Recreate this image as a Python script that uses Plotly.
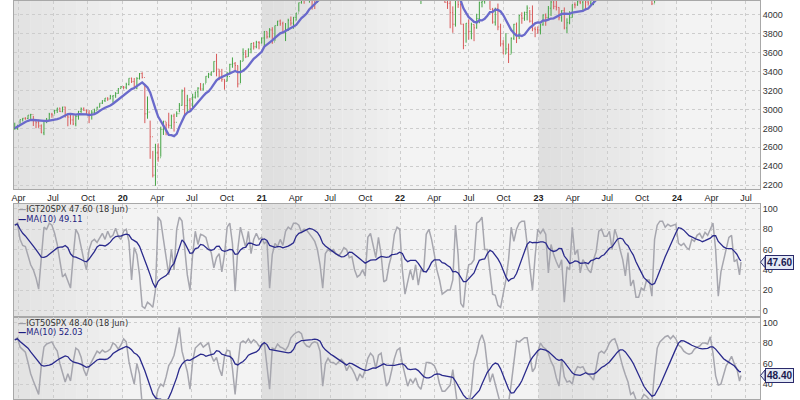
import pandas as pd
import plotly.graph_objects as go

# ---------------- data ----------------
dates = list(pd.date_range("2019-03-22", "2024-06-14", freq="W-FRI")) + [pd.Timestamp("2024-06-18")]

spx_close = [
    2801, 2834, 2893, 2907, 2905, 2940, 2946, 2881, 2860, 2826, 2752, 2873, 2887, 2950, 2942, 2990, 3014, 2977, 3026, 2932,
    2919, 2889, 2847, 2926, 2979, 3007, 2992, 2962, 2952, 2970, 2986, 3023, 3067, 3093, 3120, 3110, 3141, 3146, 3169, 3221, 3240,
    3235, 3265, 3330, 3295, 3226, 3328, 3380, 3338, 2954, 2972, 2711, 2305, 2541, 2489, 2790, 2875, 2837, 2831, 2930, 2864,
    2955, 3044, 3194, 3041, 3098, 3009, 3130, 3185, 3225, 3216, 3271, 3351, 3373, 3397, 3508, 3427, 3341, 3319, 3298, 3348,
    3477, 3484, 3465, 3270, 3509, 3585, 3558, 3638, 3699, 3663, 3709, 3703, 3756,
    3825, 3768, 3841, 3714, 3887, 3935, 3907, 3811, 3842, 3943, 3913, 3975, 4020, 4129, 4185, 4180, 4181, 4233, 4174, 4156,
    4204, 4230, 4247, 4166, 4281, 4352, 4370, 4327, 4412, 4395, 4437, 4468, 4442, 4509, 4535, 4459, 4433, 4455, 4357, 4391,
    4471, 4545, 4605, 4698, 4683, 4698, 4595, 4538, 4712, 4621, 4726, 4766,
    4677, 4663, 4398, 4432, 4501, 4419, 4349, 4385, 4329, 4204, 4463, 4543, 4546, 4488, 4393, 4272, 4132, 4123, 4024, 3901,
    4158, 4109, 3901, 3675, 3912, 3825, 3899, 3863, 3962, 4130, 4145, 4280, 4228, 4058, 3924, 4067, 3873, 3693, 3586, 3640,
    3583, 3753, 3901, 3771, 3993, 3965, 4026, 4072, 3934, 3852, 3845, 3840,
    3895, 3999, 3973, 4071, 4136, 4090, 4079, 3970, 4046, 3862, 3917, 3971, 4109, 4105, 4138, 4134, 4169, 4136, 4124, 4192,
    4205, 4282, 4299, 4410, 4348, 4450, 4399, 4505, 4536, 4582, 4478, 4464, 4370, 4406, 4516, 4457, 4450, 4320, 4288, 4309,
    4328, 4224, 4117, 4358, 4415, 4514, 4559, 4595, 4604, 4719, 4755, 4770,
    4697, 4784, 4840, 4891, 4959, 5027, 5006, 5089, 5137, 5124, 5117, 5234, 5254, 5204, 5123, 4967, 5100, 5128, 5223, 5303,
    5305, 5278, 5347, 5432, 5487,
]
spx_high = [
    2860, 2836, 2893, 2910, 2917, 2940, 2954, 2932, 2892, 2892, 2842, 2884, 2910, 2964, 2964, 2996, 3017, 3018, 3028, 3029,
    2945, 2943, 2939, 2940, 2985, 3021, 3022, 2999, 2993, 2993, 3008, 3028, 3066, 3097, 3121, 3128, 3154, 3147, 3183, 3225, 3248,
    3247, 3282, 3330, 3337, 3333, 3341, 3385, 3393, 3260, 3137, 2882, 2562, 2637, 2641, 2818, 2880, 2868, 2965, 2945, 2955,
    2980, 3068, 3211, 3233, 3155, 3121, 3166, 3185, 3235, 3280, 3272, 3352, 3387, 3399, 3509, 3588, 3425, 3429, 3320, 3397,
    3483, 3550, 3502, 3465, 3521, 3646, 3628, 3645, 3701, 3712, 3726, 3723, 3760,
    3827, 3824, 3860, 3870, 3887, 3937, 3951, 3928, 3914, 3960, 3983, 3978, 4021, 4130, 4191, 4195, 4219, 4238, 4236, 4197,
    4219, 4234, 4249, 4262, 4286, 4355, 4372, 4394, 4415, 4430, 4440, 4468, 4481, 4513, 4546, 4536, 4486, 4465, 4466, 4429,
    4475, 4559, 4608, 4718, 4714, 4743, 4705, 4652, 4713, 4731, 4741, 4808,
    4819, 4749, 4664, 4453, 4595, 4590, 4490, 4401, 4416, 4314, 4466, 4546, 4637, 4593, 4521, 4513, 4308, 4308, 4154, 4090,
    4159, 4178, 4169, 3907, 3914, 3951, 3918, 3900, 4012, 4141, 4167, 4281, 4325, 4203, 4074, 4077, 4120, 3907, 3733, 3807,
    3697, 3762, 3905, 3919, 4001, 4028, 4034, 4101, 4052, 4100, 3876, 3878,
    3907, 4004, 4015, 4094, 4195, 4176, 4163, 4082, 4049, 4079, 3964, 4039, 4110, 4133, 4164, 4170, 4170, 4186, 4155, 4213,
    4213, 4290, 4299, 4448, 4439, 4458, 4456, 4527, 4578, 4607, 4595, 4528, 4490, 4452, 4541, 4520, 4511, 4465, 4338, 4312,
    4386, 4393, 4263, 4366, 4418, 4521, 4560, 4595, 4609, 4739, 4779, 4793,
    4755, 4803, 4843, 4907, 4975, 5030, 5038, 5111, 5140, 5189, 5179, 5261, 5264, 5263, 5220, 5150, 5114, 5139, 5239, 5325,
    5342, 5315, 5376, 5447, 5488,
]
spx_low = [
    2785, 2785, 2848, 2873, 2891, 2898, 2900, 2825, 2801, 2805, 2750, 2728, 2855, 2880, 2912, 2953, 2963, 2973, 2970, 2914,
    2822, 2840, 2834, 2822, 2892, 2964, 2985, 2946, 2855, 2893, 2952, 2993, 3023, 3058, 3079, 3091, 3108, 3070, 3123, 3166, 3222,
    3212, 3214, 3254, 3280, 3214, 3214, 3316, 3328, 2855, 2902, 2478, 2281, 2192, 2447, 2500, 2730, 2727, 2799, 2797, 2766,
    2920, 2970, 3039, 2937, 2966, 2999, 3001, 3115, 3127, 3200, 3198, 3280, 3331, 3354, 3396, 3350, 3310, 3293, 3209, 3297,
    3370, 3441, 3416, 3233, 3279, 3511, 3543, 3558, 3594, 3633, 3647, 3636, 3699,
    3663, 3749, 3761, 3694, 3725, 3884, 3885, 3805, 3723, 3830, 3886, 3854, 3939, 4034, 4119, 4118, 4152, 4129, 4056, 4062,
    4128, 4191, 4214, 4165, 4164, 4271, 4304, 4322, 4234, 4365, 4367, 4424, 4368, 4432, 4513, 4447, 4427, 4306, 4288, 4278,
    4323, 4447, 4547, 4595, 4630, 4672, 4585, 4495, 4532, 4571, 4532, 4734,
    4662, 4582, 4395, 4223, 4436, 4402, 4327, 4115, 4279, 4157, 4161, 4424, 4507, 4450, 4381, 4267, 4129, 4063, 3859, 3811,
    3876, 4074, 3900, 3637, 3706, 3738, 3742, 3722, 3854, 3912, 4080, 4119, 4218, 4057, 3907, 3887, 3838, 3666, 3584, 3588,
    3491, 3590, 3735, 3702, 3744, 3906, 3938, 3942, 3919, 3827, 3764, 3801,
    3794, 3886, 3885, 3949, 3989, 4060, 4047, 3943, 3928, 3847, 3808, 3901, 3971, 4069, 4097, 4114, 4049, 4048, 4099, 4098,
    4103, 4166, 4252, 4287, 4341, 4328, 4385, 4389, 4503, 4528, 4474, 4443, 4335, 4356, 4414, 4430, 4448, 4316, 4238, 4216,
    4284, 4223, 4104, 4127, 4340, 4404, 4513, 4537, 4546, 4594, 4697, 4751,
    4683, 4682, 4714, 4845, 4845, 4919, 4920, 4946, 5039, 5098, 5104, 5118, 5204, 5146, 5108, 4954, 4970, 5012, 5119, 5212,
    5257, 5191, 5234, 5331, 5420,
]

igt20spx = [
    84, 86, 70, 64, 63, 55, 45, 40, 32, 21, 50, 82, 80, 86, 84, 76, 65, 48, 33, 36,
    28, 22, 53, 80, 75, 62, 50, 40, 60, 68, 70, 67, 72, 76, 70, 78, 72, 74, 81, 73,
    70, 78, 80, 68, 30, 62, 55, 35, 4, 2, 8, 6, 3, 20, 92, 88, 70, 50, 35, 60,
    40, 80, 92, 88, 62, 35, 20, 55, 78, 65, 75, 74, 72, 62, 57, 42, 52, 56, 38, 55,
    82, 86, 66, 19, 60, 82, 72, 62, 78, 56, 70, 76, 70, 72, 66, 68, 22, 55, 66, 63,
    70, 64, 78, 82, 80, 86, 86, 84, 77, 80, 79, 76, 72, 68, 60, 45, 22, 56, 60, 58,
    60, 56, 54, 57, 62, 60, 52, 53, 40, 33, 35, 40, 34, 72, 76, 64, 52, 72, 55, 28,
    30, 45, 55, 75, 82, 80, 40, 16, 30, 40, 30, 45, 25, 40, 38, 75, 80, 70, 56, 40,
    30, 16, 18, 20, 20, 30, 84, 55, 7, 3, 30, 45, 46, 50, 86, 88, 92, 60, 60, 35,
    16, 15, 5, 3, 15, 30, 50, 82, 68, 80, 86, 88, 88, 65, 40, 20, 53, 80, 76, 80,
    75, 37, 65, 55, 48, 42, 50, 8, 43, 40, 82, 55, 60, 37, 50, 46, 40, 37, 50, 58,
    78, 80, 73, 73, 78, 60, 80, 72, 60, 50, 34, 57, 24, 30, 13, 13, 22, 20, 30, 30,
    14, 70, 84, 88, 88, 82, 85, 83, 84, 85, 66, 64, 66, 62, 60, 70, 68, 74, 76, 71,
    77, 74, 80, 86, 60, 14, 38, 50, 62, 72, 74, 48, 50, 35, 47.6,
]
igt50spx = [
    83, 85, 76, 73, 71, 61, 50, 43, 36, 30, 58, 76, 79, 80, 81, 76, 72, 60, 50, 42,
    50, 43, 61, 75, 73, 66, 54, 48, 57, 62, 66, 72, 70, 73, 71, 72, 74, 80, 78, 74,
    78, 84, 81, 62, 50, 40, 60, 50, 20, 5, 3, 5, 10, 25, 35, 40, 38, 47, 58, 62,
    68, 80, 95, 72, 62, 52, 35, 62, 75, 78, 80, 76, 78, 80, 68, 62, 66, 55, 48, 67,
    73, 72, 55, 30, 58, 80, 82, 80, 84, 80, 83, 81, 77, 77, 80, 60, 35, 75, 74, 79,
    76, 75, 73, 77, 85, 88, 90, 91, 89, 80, 77, 76, 80, 81, 80, 72, 38, 60, 65, 61,
    61, 59, 62, 64, 61, 53, 58, 55, 50, 43, 50, 46, 54, 65, 70, 67, 55, 68, 70, 52,
    38, 42, 55, 65, 73, 75, 60, 50, 38, 45, 41, 46, 38, 35, 46, 61, 61, 60, 58, 52,
    40, 33, 33, 36, 39, 54, 25, 15, 10, 8, 12, 20, 34, 62, 70, 82, 88, 80, 58, 42,
    50, 38, 25, 15, 10, 12, 22, 40, 62, 82, 81, 83, 85, 85, 67, 52, 56, 71, 80, 76,
    74, 70, 62, 57, 46, 38, 64, 47, 42, 43, 40, 52, 57, 56, 57, 52, 50, 47, 44, 56,
    70, 72, 70, 74, 80, 83, 84, 77, 66, 57, 49, 42, 30, 32, 25, 23, 25, 30, 28, 25,
    22, 52, 75, 81, 84, 86, 87, 84, 87, 84, 78, 76, 72, 70, 69, 70, 74, 76, 77, 80,
    80, 79, 86, 70, 48, 39, 40, 48, 58, 62, 67, 60, 55, 43, 48.4,
]

tick_dates = ["2019-04-01", "2019-07-01", "2019-10-01", "2020-01-01", "2020-04-01", "2020-07-01", "2020-10-01",
              "2021-01-01", "2021-04-01", "2021-07-01", "2021-10-01", "2022-01-01", "2022-04-01", "2022-07-01",
              "2022-10-01", "2023-01-01", "2023-04-01", "2023-07-01", "2023-10-01", "2024-01-01", "2024-04-01",
              "2024-07-01"]
tick_labels = ["Apr", "Jul", "Oct", "<b>20</b>", "Apr", "Jul", "Oct", "<b>21</b>", "Apr", "Jul", "Oct", "<b>22</b>",
               "Apr", "Jul", "Oct", "<b>23</b>", "Apr", "Jul", "Oct", "<b>24</b>", "Apr", "Jul"]
price_ticks = [2200, 2400, 2600, 2800, 3000, 3200, 3400, 3600, 3800, 4000, 4200, 4400, 4600, 4800, 5000, 5200, 5400]
osc_ticks = [0, 20, 40, 60, 80, 100]
legend20 = ["IGT20SPX 47.60 (18 Jun)", "MA(10) 49.11"]
legend50 = ["IGT50SPX 48.40 (18 Jun)", "MA(10) 52.03"]
last20, last50 = "47.60", "48.40"

# ---------------- build ----------------
n = min(len(dates), len(spx_close), len(spx_high), len(spx_low), len(igt20spx), len(igt50spx))
df = pd.DataFrame({"date": dates[:n], "close": spx_close[:n], "high": spx_high[:n], "low": spx_low[:n],
                   "i20": igt20spx[:n], "i50": igt50spx[:n]})
df["open"] = df["close"].shift(1).fillna(df["close"])
df["ma"] = df["close"].rolling(10, min_periods=1).mean()
df["ma20"] = df["i20"].rolling(10, min_periods=1).mean()
df["ma50"] = df["i50"].rolling(10, min_periods=1).mean()

FONT = "Liberation Sans"
LEGFONT = "DejaVu Sans"
X_RANGE = ["2019-03-20", "2024-08-07"]

fig = go.Figure()
fig.add_trace(go.Ohlc(x=df["date"], open=df["open"], high=df["high"], low=df["low"], close=df["close"],
                      increasing=dict(line=dict(color="#44a444", width=1)),
                      decreasing=dict(line=dict(color="#d85a5a", width=1)),
                      tickwidth=0.5, xaxis="x", yaxis="y", hoverinfo="skip"))
fig.add_trace(go.Scatter(x=df["date"], y=df["ma"], mode="lines", line=dict(color="#6a6acb", width=2.3),
                         xaxis="x", yaxis="y", hoverinfo="skip"))
fig.add_trace(go.Scatter(x=df["date"], y=df["i20"], mode="lines", line=dict(color="#a6a6ae", width=1.5),
                         xaxis="x2", yaxis="y2", hoverinfo="skip"))
fig.add_trace(go.Scatter(x=df["date"], y=df["ma20"], mode="lines", line=dict(color="#2a2a8c", width=1.3),
                         xaxis="x2", yaxis="y2", hoverinfo="skip"))
fig.add_trace(go.Scatter(x=df["date"], y=df["i50"], mode="lines", line=dict(color="#a6a6ae", width=1.5),
                         xaxis="x3", yaxis="y3", hoverinfo="skip"))
fig.add_trace(go.Scatter(x=df["date"], y=df["ma50"], mode="lines", line=dict(color="#2a2a8c", width=1.3),
                         xaxis="x3", yaxis="y3", hoverinfo="skip"))

grid = dict(showgrid=True, gridcolor="#cdcdcd", griddash="dot", gridwidth=1,
            showline=True, linecolor="#a8a8a8", linewidth=1, mirror=True, zeroline=False)
xcommon = dict(type="date", range=X_RANGE, tickvals=tick_dates, ticktext=tick_labels, ticks="", **grid)

fig.update_layout(
    width=800, height=400, margin=dict(l=14, r=40, t=0, b=0),
    paper_bgcolor="white", plot_bgcolor="#f3f3f3", showlegend=False,
    font=dict(family=FONT, size=9, color="#333333"),
    xaxis=dict(anchor="y", domain=[0, 1], rangeslider=dict(visible=False), showticklabels=True,
               tickfont=dict(size=9, color="#222222"), **xcommon),
    xaxis2=dict(anchor="y2", domain=[0, 1], matches="x", showticklabels=False, **xcommon),
    xaxis3=dict(anchor="y3", domain=[0, 1], matches="x", showticklabels=False, **xcommon),
    yaxis=dict(domain=[0.5275, 1.0], range=[2158, 4147], side="right", tickvals=price_ticks, ticks="",
               tickfont=dict(size=9, color="#333333"), **grid),
    yaxis2=dict(domain=[0.205, 0.49], range=[-6.9, 104.9], side="right", tickvals=osc_ticks, ticks="",
                tickfont=dict(size=9, color="#333333"), **grid),
    yaxis3=dict(domain=[0.0, 0.205], range=[25.5, 104.8], side="right", tickvals=osc_ticks, ticks="",
                tickfont=dict(size=9, color="#333333"), **grid),
)

# alternating year shading (gradient) for odd years
xstart = pd.Timestamp(X_RANGE[0])
xend = pd.Timestamp(X_RANGE[1])
for yr in (2019, 2021, 2023):
    s = pd.Timestamp(f"{yr}-01-01")
    e = pd.Timestamp(f"{yr + 1}-01-01")
    steps = 12
    for k in range(steps):
        x0 = s + (e - s) * k / steps
        x1 = s + (e - s) * (k + 1) / steps
        if x1 <= xstart or x0 >= xend:
            continue
        x0 = max(x0, xstart)
        x1 = min(x1, xend)
        g = int(223 + (240 - 223) * k / (steps - 1))
        for xr, yr_ in (("x", "y domain"), ("x2", "y2 domain"), ("x3", "y3 domain")):
            fig.add_shape(type="rect", xref=xr, yref=yr_, x0=x0, x1=x1, y0=0, y1=1,
                          fillcolor=f"rgb({g},{g},{g})", line_width=0, layer="below")


def legend(lines, y_top, step):
    fig.add_annotation(xref="paper", yref="paper", x=0.003, y=y_top, xanchor="left", yanchor="middle",
                       showarrow=False, font=dict(family=LEGFONT, size=8.3, color="#333333"),
                       text=f'<span style="color:#9c9ca4"><b>—</b></span>{lines[0]}')
    fig.add_annotation(xref="paper", yref="paper", x=0.003, y=y_top - step, xanchor="left", yanchor="middle",
                       showarrow=False, font=dict(family=LEGFONT, size=8.3, color="#1c1c80"),
                       text=f'<b>—</b>{lines[1]}')


legend(legend20, 0.4775, 0.025)
legend(legend50, 0.19, 0.0225)

# value tags with a small arrow tip on the right axis
for val, yref, txt, ppu in ((igt20spx[n - 1], "y2", last20, 1.02), (igt50spx[n - 1], "y3", last50, 1.034)):
    px = 1.0 / 746.0
    half = 5.5 / ppu
    fig.add_shape(type="path", xref="paper", yref=yref,
                  path=f"M {1 + 0.5 * px},{val} L {1 + 5 * px},{val + half} L {1 + 5 * px},{val - half} Z",
                  fillcolor="#e4eaf6", line=dict(color="#2a2a6a", width=1), layer="above")
    fig.add_annotation(xref="paper", yref=yref, x=1, y=val, xanchor="left", yanchor="middle", xshift=5,
                       showarrow=False, text=f"<b>{txt}</b>",
                       font=dict(family=FONT, size=10, color="#1a1a50"),
                       bgcolor="#e4eaf6", bordercolor="#2a2a6a", borderwidth=1, borderpad=1)

fig.write_html("out.html", config={"displayModeBar": False},
               post_script="document.body.style.margin='0';document.body.style.padding='0';")
